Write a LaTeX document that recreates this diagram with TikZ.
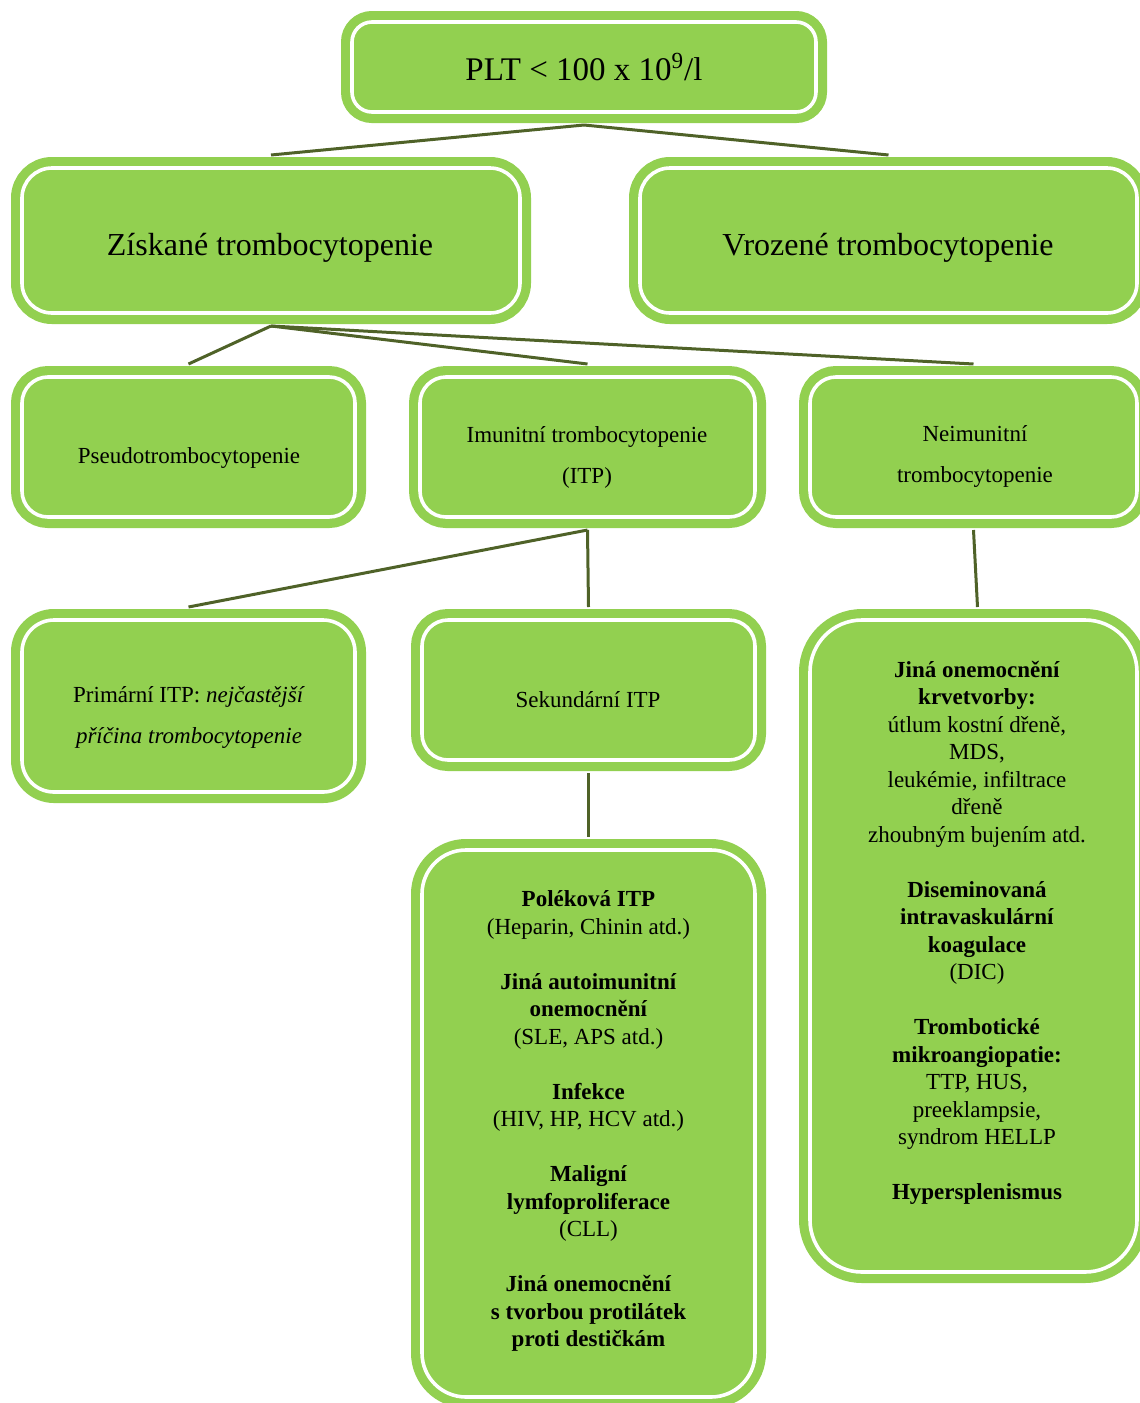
\documentclass[tikz,border=0pt]{standalone}
\usepackage{fontspec}
\setmainfont{Liberation Serif}
\usetikzlibrary{backgrounds}
\definecolor{plgreen}{HTML}{92D050}
\definecolor{plline}{HTML}{4F6228}

\begin{document}
\begin{tikzpicture}[x=0.5pt,y=-0.5pt,
  box/.style={rectangle,rounded corners=#1,draw=white,line width=1.8pt,fill=plgreen,
              preaction={draw=plgreen,line width=11pt},inner sep=0pt},
  box/.default=13pt,
  head/.style={font=\fontsize{16}{19}\selectfont,align=center,inner sep=0pt},
  lbl/.style={font=\fontsize{11.5}{20.5}\selectfont,align=center,inner sep=0pt},
  lst/.style={font=\fontsize{11.5}{13.75}\selectfont,align=center,inner sep=0pt},
  link/.style={draw=plline,line width=1.5pt}
]
\useasboundingbox (0,0) rectangle (1140,1403);
\node[box=10pt,minimum width=232pt,minimum height=45pt] (plt) at (584,67) {};
\node[box=15pt,minimum width=249pt,minimum height=72.5pt] (zisk) at (271,240.5) {};
\node[box=15pt,minimum width=248.5pt,minimum height=72.5pt] (vroz) at (888.5,240.5) {};
\node[box,minimum width=166.5pt,minimum height=70pt] (pseudo) at (188.5,447) {};
\node[box,minimum width=167.5pt,minimum height=70pt] (imun) at (587.5,447) {};
\node[box,minimum width=163.5pt,minimum height=70pt] (neim) at (973.5,447) {};
\node[box=16pt,minimum width=166.5pt,minimum height=86pt] (prim) at (188.5,706) {};
\node[box,minimum width=166.5pt,minimum height=70pt] (sek) at (588.5,690) {};
\node[box=22pt,minimum width=166.5pt,minimum height=273.5pt] (pol) at (588.5,1123.5) {};
\node[box=26pt,minimum width=163.5pt,minimum height=326pt] (jina) at (973.5,946) {};
\begin{scope}[on background layer]
\draw[link] ([yshift=-5.6pt]plt.south) -- ([yshift=5.6pt]zisk.north);
\draw[link] ([yshift=-5.6pt]plt.south) -- ([yshift=5.6pt]vroz.north);
\draw[link] ([yshift=-5.6pt]zisk.south) -- ([yshift=5.6pt]pseudo.north);
\draw[link] ([yshift=-5.6pt]zisk.south) -- ([yshift=5.6pt]imun.north);
\draw[link] ([yshift=-5.6pt]zisk.south) -- ([yshift=5.6pt]neim.north);
\draw[link] ([yshift=-5.6pt]imun.south) -- ([yshift=5.6pt]prim.north);
\draw[link] ([yshift=-5.6pt]imun.south) -- ([yshift=5.6pt]sek.north);
\draw[link] ([yshift=-5.6pt]neim.south) -- ([xshift=2pt,yshift=5.6pt]jina.north);
\draw[link] ([yshift=-5.6pt]sek.south) -- ([yshift=5.6pt]pol.north);
\end{scope}
\node[head,font=\fontsize{16.5}{19}\selectfont] (pltT) at (584,67) {PLT < 100 x 10\textsuperscript{9}/l};
\node[head] (ziskT) at (270,248) {Získané trombocytopenie};
\node[head] (vrozT) at (888,248) {Vrozené trombocytopenie};
\node[lbl] (pseudoT) at (189,458) {Pseudotrombocytopenie};
\node[lbl] (imunT) at (587,457.5) {Imunitní trombocytopenie\\(ITP)};
\node[lbl] (neimT) at (975,456.5) {Neimunitní\\trombocytopenie};
\node[lbl] (primT) at (189,717) {Primární ITP: \textit{nejčastější}\\\textit{příčina trombocytopenie}};
\node[lbl] (sekT) at (588,700) {Sekundární ITP};
\node[lst] (polT) at (588.5,1121) {\textbf{Poléková ITP}\\(Heparin, Chinin atd.)\\[13.75pt]
  \textbf{Jiná autoimunitní}\\\textbf{onemocnění}\\(SLE, APS atd.)\\[13.75pt]
  \textbf{Infekce}\\(HIV, HP, HCV atd.)\\[13.75pt]
  \textbf{Maligní}\\\textbf{lymfoproliferace}\\(CLL)\\[13.75pt]
  \textbf{Jiná onemocnění}\\\textbf{s tvorbou protilátek}\\\textbf{proti destičkám}};
\node[lst] (jinaT) at (977,933) {\textbf{Jiná onemocnění}\\\textbf{krvetvorby:}\\útlum kostní dřeně,\\MDS,\\leukémie, infiltrace\\dřeně\\zhoubným bujením atd.\\[13.75pt]
  \textbf{Diseminovaná}\\\textbf{intravaskulární}\\\textbf{koagulace}\\(DIC)\\[13.75pt]
  \textbf{Trombotické}\\\textbf{mikroangiopatie:}\\TTP, HUS,\\preeklampsie,\\syndrom HELLP\\[13.75pt]
  \textbf{Hypersplenismus}};
\end{tikzpicture}
\end{document}
